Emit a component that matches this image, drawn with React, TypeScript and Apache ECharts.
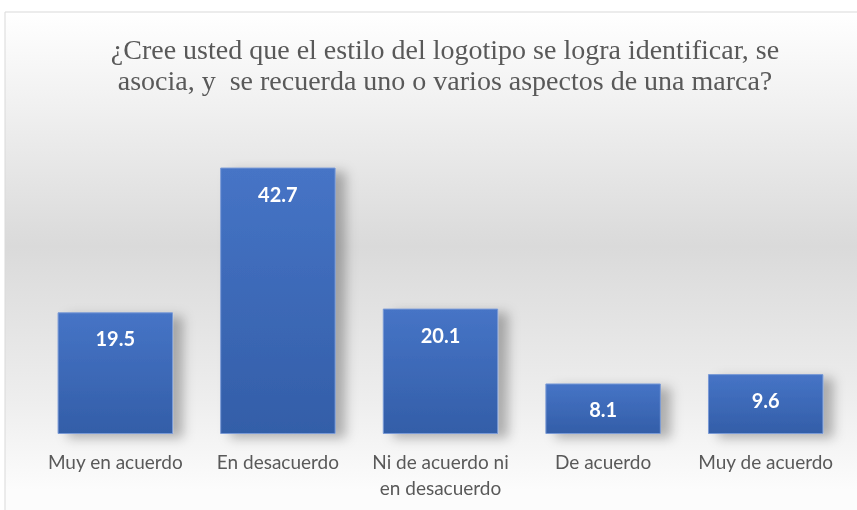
import React, { useEffect, useRef } from "react";
import * as echarts from "echarts";

const categories = [
  "Muy en acuerdo",
  "En desacuerdo",
  "Ni de acuerdo ni\nen desacuerdo",
  "De acuerdo",
  "Muy de acuerdo",
];
const values = [19.5, 42.7, 20.1, 8.1, 9.6];
const titleLines = [
  "¿Cree usted que el estilo del logotipo se logra identificar, se",
  "asocia, y  se recuerda uno o varios aspectos de una marca?",
];

export default function App() {
  const ref = useRef<HTMLDivElement>(null);
  useEffect(() => {
    if (!ref.current) return;
    const chart = echarts.init(ref.current, undefined, { renderer: "svg" });
    chart.setOption({
      animation: false,
      graphic: [
        {
          type: "rect",
          z: -10,
          silent: true,
          shape: { x: 5, y: 12, width: 870, height: 520 },
          style: {
            fill: new echarts.graphic.LinearGradient(0, 0, 0, 1, [
              { offset: 0, color: "#ffffff" },
              { offset: 0.1, color: "#f7f7f7" },
              { offset: 0.45, color: "#dadada" },
              { offset: 0.75, color: "#eeeeee" },
              { offset: 0.92, color: "#fcfcfc" },
            ]),
            stroke: "#d9d9d9",
            lineWidth: 1,
          },
        },
      ],
      title: {
        text: titleLines.join("\n"),
        left: 440,
        textAlign: "center",
        top: 29,
        textStyle: {
          fontFamily: "Liberation Serif",
          fontWeight: "normal",
          fontSize: 28,
          lineHeight: 31,
          color: "#595959",
        },
      },
      grid: { left: 34, right: 10, top: 122, bottom: 76, containLabel: false },
      xAxis: {
        type: "category",
        data: categories,
        axisLine: { show: false },
        axisTick: { show: false },
        axisLabel: {
          color: "#595959",
          fontFamily: "Lato",
          fontSize: 19,
          lineHeight: 26,
          margin: 14,
          interval: 0,
        },
      },
      yAxis: {
        type: "value",
        min: 0,
        max: 50,
        show: false,
        splitLine: { show: false },
      },
      series: [
        {
          type: "bar",
          data: values,
          barWidth: "71%",
          itemStyle: {
            color: new echarts.graphic.LinearGradient(0, 0, 0, 1, [
              { offset: 0, color: "#4674c6" },
              { offset: 1, color: "#335ea8" },
            ]),
            borderColor: "#7a9ad6",
            borderWidth: 1,
            shadowBlur: 12,
            shadowOffsetX: 10,
            shadowOffsetY: 4,
            shadowColor: "rgba(0,0,0,0.28)",
          },
          label: {
            show: true,
            position: "insideTop",
            distance: 16,
            color: "#ffffff",
            fontFamily: "Lato",
            fontWeight: "bold",
            fontSize: 20,
          },
        },
      ],
    });
    return () => chart.dispose();
  }, []);
  return (
    <div
      ref={ref}
      style={{ position: "fixed", left: 0, top: 0, width: 857, height: 510 }}
    />
  );
}
